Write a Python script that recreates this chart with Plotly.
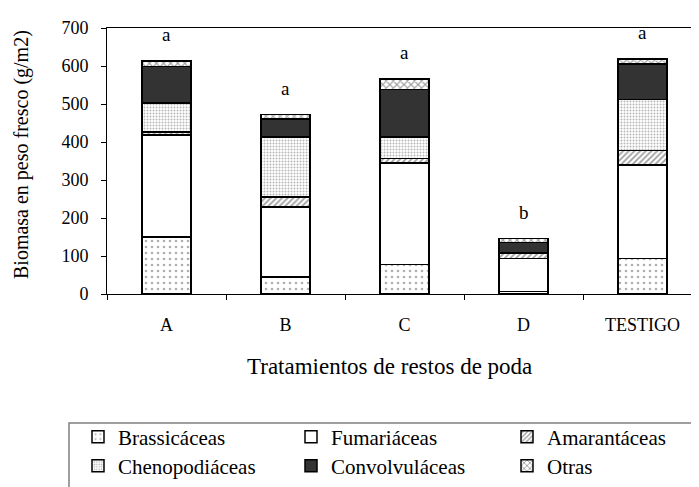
import plotly.graph_objects as go

categories = ["A", "B", "C", "D", "TESTIGO"]
brassicaceas = [150, 45, 78, 6, 94]
fumariaceas = [268, 184, 267, 88, 245]
amarantaceas = [8, 26, 11, 14, 39]
chenopodiaceas = [77, 158, 57, 0, 134]
convolvulaceas = [96, 48, 125, 27, 93]
otras = [14, 11, 28, 11, 14]
letters = ["a", "a", "a", "b", "a"]

FONT = "Liberation Serif, Times New Roman, serif"

# figure is shown with an 8px page margin; plot area in figure pixels
W, H = 691, 479
L, T, B = 99, 20, 286
PW, PH = W - L, B - T


def px(x):
    return (x - L) / PW


def py(y):
    return (B - y) / PH


series = [
    ("Brassicáceas", brassicaceas, dict(shape=".", fgcolor="#606060", bgcolor="white", size=6, solidity=0.15)),
    ("Fumariáceas", fumariaceas, None),
    ("Amarantáceas", amarantaceas, dict(shape="/", fgcolor="#404040", bgcolor="white", size=4, solidity=0.45)),
    ("Chenopodiáceas", chenopodiaceas, dict(shape=".", fgcolor="#707070", bgcolor="white", size=3, solidity=0.35)),
    ("Convolvuláceas", convolvulaceas, None),
    ("Otras", otras, dict(shape="x", fgcolor="#404040", bgcolor="white", size=5, solidity=0.4)),
]
colors = {"Fumariáceas": "white", "Convolvuláceas": "#333333"}

# legend slots: (left x, row center y) in figure pixels
cols = [70, 283, 499]
rows = [429, 458]
slots = [(cols[0], rows[0]), (cols[1], rows[0]), (cols[2], rows[0]),
         (cols[0], rows[1]), (cols[1], rows[1]), (cols[2], rows[1])]

fig = go.Figure()
legend_layout = {}
for i, (name, vals, pat) in enumerate(series):
    marker = dict(line=dict(color="black", width=1.5))
    if pat is None:
        marker["color"] = colors[name]
    else:
        marker["color"] = "white"
        marker["pattern"] = pat
    lname = "legend" if i == 0 else f"legend{i + 1}"
    fig.add_trace(go.Bar(x=categories, y=vals, name=name, marker=marker, width=0.41, legend=lname))
    sx, sy = slots[i]
    legend_layout[lname] = dict(x=px(sx), y=py(sy), xanchor="left", yanchor="middle",
                                bgcolor="rgba(0,0,0,0)", borderwidth=0,
                                font=dict(family=FONT, size=21, color="black"))

totals = [sum(v) for v in zip(brassicaceas, fumariaceas, amarantaceas, chenopodiaceas, convolvulaceas, otras)]
for c, t, l in zip(categories, totals, letters):
    fig.add_annotation(x=c, y=t, text=l, showarrow=False, yanchor="bottom", yshift=14,
                       font=dict(family=FONT, size=19, color="black"))

fig.add_annotation(xref="paper", yref="paper", x=px(13), y=py(147), xanchor="center", yanchor="middle",
                   text="Biomasa en peso fresco (g/m2)",
                   textangle=-90, showarrow=False, font=dict(family=FONT, size=20, color="black"))
fig.add_annotation(xref="paper", yref="paper", x=px(381), y=py(358), xanchor="center", yanchor="middle",
                   text="Tratamientos de restos de poda",
                   showarrow=False, font=dict(family=FONT, size=23, color="black"))

# legend frame (extends past the right and bottom edges as in the original)
fig.add_shape(type="rect", xref="paper", yref="paper", x0=px(61), x1=px(W + 40), y0=py(H + 40), y1=py(415),
              line=dict(color="#808080", width=1.5), fillcolor="rgba(0,0,0,0)", layer="below")

fig.update_layout(
    width=W, height=H,
    margin=dict(l=L, r=0, t=T, b=H - B),
    barmode="stack",
    plot_bgcolor="white", paper_bgcolor="white",
    font=dict(family=FONT, size=18, color="black"),
    showlegend=True,
    **legend_layout,
)
fig.update_xaxes(range=[-0.5, -0.5 + PW / 119.0], showline=True, linecolor="black", linewidth=1, mirror=True,
                 ticks="outside", tickson="boundaries", ticklen=5, tickcolor="black",
                 ticklabelstandoff=14, showgrid=False, tickfont=dict(family=FONT, size=18))
fig.update_yaxes(range=[0, 700], showline=True, linecolor="black", linewidth=1,
                 ticks="outside", ticklen=5, tickcolor="black", dtick=100, tick0=0,
                 ticklabelstandoff=9, showgrid=False, zeroline=False, tickfont=dict(family=FONT, size=18))

fig.write_html("out.html")
